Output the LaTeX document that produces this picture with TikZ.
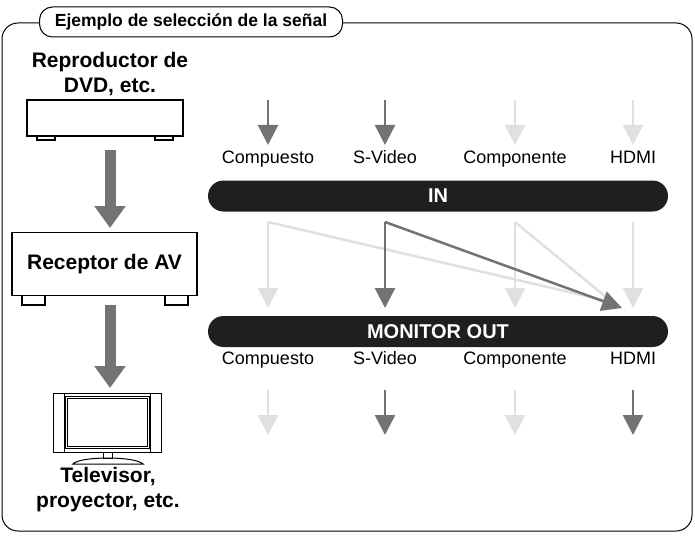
\documentclass[tikz,border=0pt]{standalone}
\usepackage{fontspec}
\setmainfont{Liberation Sans}
\usetikzlibrary{arrows.meta}
\begin{document}
\begin{tikzpicture}[x=1pt,y=-1pt,
 dk/.style={draw=black!55,line width=2.5pt,-{Triangle[width=20pt,length=20pt]}},
 lt/.style={draw=black!12,line width=2.5pt,-{Triangle[width=20pt,length=20pt]}},
 big/.style={draw=black!55,line width=11pt,-{Triangle[width=30pt,length=22pt]}},
 lbl/.style={font=\fontsize{18}{20}\selectfont,anchor=base},
 blbl/.style={font=\bfseries\fontsize{21}{25}\selectfont,align=center},
 bar/.style={fill=black!88,rounded corners=15.5pt},
 dev/.style={draw=black,line width=1.2pt,fill=white}]
\useasboundingbox (0,0) rectangle (695,540);
% frame
\draw[line width=1pt,rounded corners=16pt] (40,23) -- (692,23) -- (692,531) -- (2,531) -- (2,23) -- (40,23);
\node[draw,line width=1pt,fill=white,rounded corners=13pt,minimum width=303pt,minimum height=30pt,inner sep=0,font=\bfseries\fontsize{17.5}{20}\selectfont] (title) at (191,22) {Ejemplo de selección de la señal};
% devices
\node[blbl] (dvdt) at (110,74) {Reproductor de\\DVD, etc.};
\draw[dev] (37,135) rectangle (55,140) (155,135) rectangle (173,140);
\node[dev,minimum width=156pt,minimum height=36pt,inner sep=0] (dvd) at (105,118) {};
\draw[dev] (22,294) rectangle (45,305) (165,294) rectangle (188,305);
\node[dev,minimum width=185pt,minimum height=63pt,font=\bfseries\fontsize{21}{24}\selectfont] (rec) at (104.5,264) {Receptor de AV};
\coordinate (a1) at (110,150); \coordinate (a1e) at (110,228);
\draw[big] (a1) -- (a1e);
\coordinate (a2) at (110,305); \coordinate (a2e) at (110,388);
\draw[big] (a2) -- (a2e);
% TV
\draw[line width=1pt] (53,393) rectangle (161,452);
\draw[line width=1pt] (64,393) -- (64,452) (150,393) -- (150,452);
\draw[line width=0.8pt] (65,396) rectangle (149,448);
\draw[line width=0.8pt] (67,398) rectangle (147,446);
\draw[line width=1pt] (103,452) rectangle (112,458);
\draw[line width=1pt] (73,464) .. controls (80,456) and (135,456) .. (143,464) -- cycle;
\node[blbl,align=center] (tvt) at (108,490) {Televisor,\\proyector, etc.};
% columns
\foreach \n/\x in {1/268,2/385,3/515,4/633}{
 \coordinate (t\n) at (\x,100); \coordinate (te\n) at (\x,145);
 \coordinate (m\n) at (\x,222); \coordinate (me\n) at (\x,308);
 \coordinate (b\n) at (\x,390); \coordinate (be\n) at (\x,435);}
\draw[dk] (t1) -- (te1); \draw[dk] (t2) -- (te2);
\draw[lt] (t3) -- (te3); \draw[lt] (t4) -- (te4);
\foreach \n/\x/\s in {1/268/Compuesto,2/385/S-Video,3/515/Componente,4/633/HDMI}{
 \node[lbl] (u\n) at (\x,164) {\s}; \node[lbl] (l\n) at (\x,364) {\s};}
\node[bar,minimum width=460pt,minimum height=31pt,text=white,font=\bfseries\fontsize{20}{22}\selectfont] (in) at (438,196) {IN};
\node[bar,minimum width=460pt,minimum height=31pt,text=white,font=\bfseries\fontsize{20}{22}\selectfont] (out) at (438,331.5) {MONITOR OUT};
\coordinate (h) at (622,308);
\draw[lt] (m1) -- (me1); \draw[lt] (m3) -- (me3); \draw[lt] (m4) -- (me4);
\draw[draw=black!12,line width=2.5pt] (m1) -- (612,302); \draw[draw=black!12,line width=2.5pt] (m3) -- (612,302);
\draw[dk] (m2) -- (h);
\draw[dk] (m2) -- (me2);
\draw[lt] (b1) -- (be1); \draw[dk] (b2) -- (be2);
\draw[lt] (b3) -- (be3); \draw[dk] (b4) -- (be4);
\end{tikzpicture}
\end{document}
